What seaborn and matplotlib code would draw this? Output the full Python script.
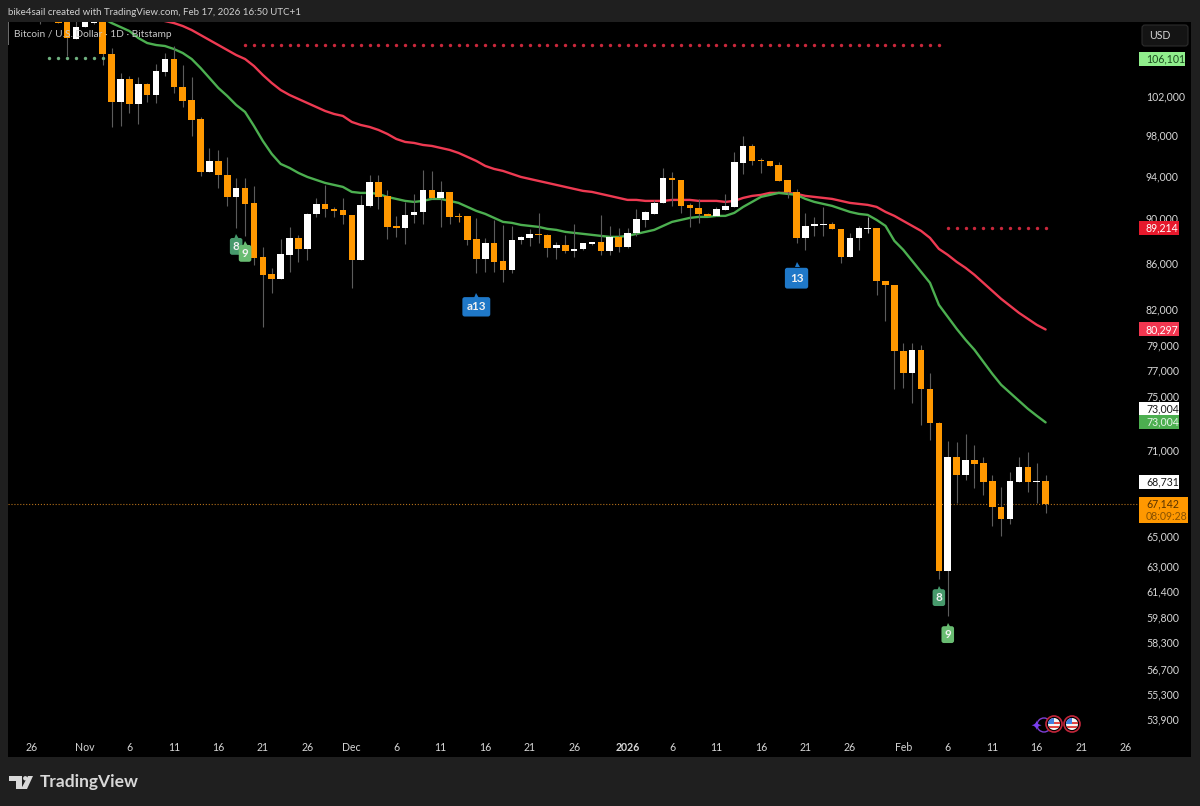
import numpy as np
import matplotlib
matplotlib.use("Agg")
import matplotlib.pyplot as plt
from matplotlib.patches import Rectangle, Circle, Wedge, Polygon, FancyBboxPatch
from matplotlib.ticker import NullLocator
import seaborn as sns

# daily candles, first one is day 1 (day 0 = Oct 26)
opens = [111200, 111500, 110100, 111500, 108131, 109469, 109917, 110500, 106484, 101377,
         103793, 101170, 103264, 102107, 104540, 105940, 102947, 101584, 99628, 94365,
         95435, 94077, 91981, 92833, 91418, 86500, 85008, 84573, 86678, 88199,
         87211, 90394, 91324, 90857, 90764, 90301, 86234, 91137, 93404, 92076,
         89290, 89107, 90301, 90579, 92642, 91887, 92453, 90209, 90209, 88109,
         86323, 87749, 86146, 85356, 88018, 88199, 88562, 88471, 87300, 87570,
         87032, 87211, 87659, 87839, 87032, 88290, 87390, 88652, 89839, 90394,
         91418, 93788, 93595, 91231, 90951, 90394, 90209, 90764, 91044, 95240,
         96912, 95532, 95435, 95046, 93595, 92453, 88199, 89290, 89382, 89473,
         89016, 86500, 88199, 89016, 89107, 84400, 84056, 78563, 76814, 78643,
         75565, 72980, 62718, 70483, 69196, 70266, 70051, 68772, 66966, 66148,
         68702, 69765, 68702, 68731]
highs = [112000, 112500, 110800, 112000, 110500, 111000, 111000, 111000, 107140, 104433,
         104112, 104006, 103370, 105399, 106592, 107360, 105291, 104006, 99800, 96714,
         96515, 95827, 93788, 93788, 93023, 87390, 85532, 88109, 89198, 88471,
         90486, 91887, 93118, 91044, 91887, 90301, 92170, 94077, 94077, 92642,
         90209, 91511, 92264, 94558, 94461, 93499, 92453, 90486, 90209, 90024,
         88199, 89839, 89382, 89290, 88380, 89016, 90486, 88562, 87839, 88471,
         89473, 87749, 87839, 90301, 89290, 89107, 89107, 90857, 90700, 91698,
         94752, 94365, 93595, 91418, 91792, 90486, 91044, 92264, 96318, 97910,
         97110, 95729, 95435, 95337, 93595, 92737, 90486, 90116, 91044, 89656,
         89016, 88652, 89290, 90116, 89107, 84400, 84056, 79209, 79209, 79047,
         76814, 73055, 71647, 71574, 72163, 71354, 70483, 69196, 68351, 69408,
         70483, 70844, 70051, 69196]
lows = [109805, 110300, 109917, 106266, 108131, 109469, 109800, 105291, 98816, 98917,
        100243, 99120, 101377, 101274, 104112, 102316, 100860, 97910, 93980, 94365,
        92833, 91137, 89107, 88380, 85795, 80518, 83370, 84573, 85182, 86058,
        86234, 90116, 90116, 90116, 89473, 83797, 86234, 91044, 90857, 88109,
        88290, 87659, 89565, 89473, 91887, 89198, 89473, 89656, 87570, 85095,
        85182, 85182, 84314, 85095, 87659, 87480, 87749, 86500, 86323, 86855,
        86500, 87121, 87570, 86678, 86678, 86944, 87300, 88380, 89198, 90394,
        91418, 91137, 90486, 89198, 89565, 90209, 90209, 90764, 91044, 94172,
        95046, 94268, 94949, 93499, 91887, 87749, 87121, 88380, 88380, 89016,
        85970, 86500, 87121, 88652, 83200, 81013, 75565, 75642, 74490, 72831,
        71720, 62206, 59895, 67241, 68842, 68281, 67793, 65676, 65006, 65810,
        68702, 68002, 67241, 66556]
closes = [110900, 111000, 109917, 108200, 109469, 110500, 110500, 106484, 101377, 103793,
          101170, 103264, 102107, 104646, 105940, 102947, 101481, 99525, 94365, 95435,
          94077, 91981, 92833, 91324, 86411, 84921, 84573, 86766, 88199, 87211,
          90394, 91324, 90857, 90672, 90301, 86234, 91231, 93404, 91981, 89198,
          89107, 90301, 90579, 92642, 91887, 92453, 90116, 90116, 88018, 86323,
          87749, 86058, 85356, 88018, 88290, 88562, 88471, 87300, 87570, 87032,
          87211, 87749, 87839, 87032, 88290, 87390, 88652, 89931, 90579, 91418,
          93788, 93595, 91137, 90951, 90394, 90209, 90857, 91137, 95337, 96912,
          95435, 95435, 94949, 93499, 92453, 88199, 89290, 89473, 89473, 89016,
          86500, 88199, 89107, 89107, 84400, 84056, 78563, 76814, 78643, 75565,
          72980, 62718, 70483, 69196, 70266, 69979, 68702, 66966, 66148, 68772,
          69765, 68702, 68731, 67142]

# moving averages, both end on the last candle
green_ma = [110482, 109917, 109469, 109020, 108242, 107690, 107470, 107360, 107030, 106592,
            105940, 104969, 103900, 102841, 102000, 101067, 100345, 98917, 97409, 96122,
            95142, 94753, 94269, 93884, 93595, 93309, 93118, 92928, 92453, 92359,
            92359, 92264, 91981, 91792, 91605, 91511, 91605, 91792, 91792, 91605,
            91418, 91044, 90672, 90394, 90024, 89656, 89565, 89382, 89290, 89198,
            89016, 88924, 88743, 88652, 88562, 88471, 88380, 88290, 88290, 88380,
            88562, 88743, 88924, 89290, 89656, 89839, 90024, 90116, 90116, 90209,
            90209, 90486, 91044, 91511, 91981, 92170, 92359, 92264, 92170, 91792,
            91511, 91324, 91137, 90857, 90579, 90394, 90301, 89839, 89290, 87929,
            87121, 86146, 85182, 84228, 82352, 81346, 80352, 79452, 78643, 77683,
            76735, 75875, 75256, 74642, 74033, 73505, 73004]
red_ma = [110368, 110142, 109917, 109581, 109132, 108576, 108020, 107470, 106920, 106375,
          105940, 105184, 104220, 103370, 102630, 102107, 101688, 101274, 100860, 100447,
          100140, 99935, 99322, 99018, 98816, 98512, 98110, 97607, 97310, 97210,
          97011, 96912, 96714, 96515, 96220, 95827, 95435, 94948, 94655, 94461,
          94172, 93884, 93691, 93499, 93309, 93118, 92928, 92737, 92548, 92453,
          92264, 92076, 91887, 91698, 91698, 91605, 91605, 91605, 91698, 91698,
          91698, 91605, 91605, 91605, 91511, 91605, 91887, 92076, 92170, 92359,
          92359, 92359, 92264, 92076, 91981, 91887, 91792, 91605, 91418, 91324,
          91231, 91044, 90579, 90209, 89747, 89290, 88833, 88199, 87211, 86678,
          86058, 85532, 84921, 84228, 83540, 82859, 82268, 81680, 81180, 80683,
          80297]

# dotted levels: (first day, last day, price)
red_level_top = (24, 102, 107420)
red_level_low = (103, 114, 89107)
green_level = (2, 8, 106020)
last_price = 67142

y_ticks = [102000, 98000, 94000, 90000, 86000, 82000, 79000, 77000, 75000, 71000, 69000,
           65000, 63000, 61400, 59800, 58300, 56700, 55300, 53900]
x_ticks = [0, 6, 11, 16, 21, 26, 31, 36, 41, 46, 51, 56, 61, 67, 72, 77, 82, 87, 92, 98, 103, 108, 113, 118, 123]
x_labels = ["26", "Nov", "6", "11", "16", "21", "26", "Dec", "6", "11", "16", "21", "26", "2026",
            "6", "11", "16", "21", "26", "Feb", "6", "11", "16", "21", "26"]

sns.set_theme(style="dark")
plt.rcParams['font.family'] = ['Lato', 'DejaVu Sans']

W, H = 1200, 806
bg = "#1f1f1f"
tick_col = "#d6d6d6"
fig = plt.figure(figsize=(W / 100, H / 100), dpi=100, facecolor=bg)


def fx(px):
    return px / W


def fy(px):
    return 1 - px / H


# black panel behind the chart and the price axis
fig.add_artist(Rectangle((fx(8), fy(757)), fx(1183), 735 / H, transform=fig.transFigure,
                         facecolor="black", edgecolor="none", zorder=-1))
ax = fig.add_axes([fx(8), fy(735), fx(1131), 713 / H], facecolor="black")
ax.set_yscale("log")

days = np.arange(1, len(opens) + 1)
green_days = np.arange(115 - len(green_ma), 115)
red_days = np.arange(115 - len(red_ma), 115)

sns.lineplot(x=red_days, y=red_ma, color="#ee3a52", linewidth=1.7, ax=ax, legend=False, zorder=2)
sns.lineplot(x=green_days, y=green_ma, color="#4caf50", linewidth=1.7, ax=ax, legend=False, zorder=2)

# candles
o = np.array(opens)
c = np.array(closes)
ups = c >= o
wick_cols = ["#5c5c5c"] * len(days)
wick_cols[47] = "#b87a2a"  # the two crosses keep a coloured wick
wick_cols[93] = "#a8a8a8"
ax.vlines(days, lows, highs, colors=wick_cols, linewidth=0.8, zorder=3)
body_bottom = np.minimum(o, c)
body_height = np.maximum(np.abs(c - o), 50)
ax.bar(days[ups], body_height[ups], bottom=body_bottom[ups], width=0.74, color="#ffffff", linewidth=0, zorder=4)
ax.bar(days[~ups], body_height[~ups], bottom=body_bottom[~ups], width=0.74, color="#ff9800", linewidth=0, zorder=4)

# dotted levels
for (d0, d1, price), col in [(red_level_top, "#c9283c"), (red_level_low, "#c9283c"), (green_level, "#6fb07f")]:
    level_days = np.arange(d0, d1 + 1)
    sns.scatterplot(x=level_days, y=[price] * len(level_days), color=col, s=6, linewidth=0, ax=ax,
                    legend=False, zorder=5)
ax.axhline(last_price, color="#b5701a", linestyle=":", linewidth=0.8, zorder=1)


# little TD count flags
def flag(day, price, text, col, size, pad, tip):
    ax.text(day, price, text, color="#f2f2f2", fontsize=size, fontweight="bold", ha="center", va="center",
            zorder=7, bbox=dict(boxstyle="round,pad=" + str(pad) + ",rounding_size=0.2", facecolor=col, edgecolor="none"))
    ax.plot([day], [tip], marker="^", markersize=3.6, color=col, markeredgewidth=0, zorder=6)


flag(23, 87433, "8", "#479a6c", 8.4, 0.25, 88380)
flag(24, 86810, "9", "#69bc72", 8.4, 0.25, 87750)
flag(102, 61007, "8", "#479a6c", 8.4, 0.25, 61630)
flag(103, 58737, "9", "#69bc72", 8.4, 0.25, 59340)
flag(50, 82184, "a13", "#1f78c8", 8.4, 0.36, 83200)
flag(86, 84630, "13", "#1f78c8", 8.4, 0.42, 85880)

ax.set_xlim(-2.65, 124.5)
ax.set_ylim(52996, 110035)
ax.yaxis.tick_right()
ax.set_yticks(y_ticks)
ax.set_yticklabels([f"{v:,}" for v in y_ticks])
ax.yaxis.set_minor_locator(NullLocator())
ax.set_xticks(x_ticks)
ax.set_xticklabels(x_labels)
ax.tick_params(axis="y", length=0, pad=5, labelsize=7.6, labelcolor=tick_col)
ax.tick_params(axis="x", length=0, pad=5, labelsize=7.6, labelcolor=tick_col)
ax.get_xticklabels()[13].set_fontweight("bold")
ax.grid(False)
for side in ax.spines.values():
    side.set_visible(False)


def tag(price, text, col, txt_col, right, dy=0, h=14, sub=None):
    # price label on the axis, centred on its price plus dy pixels
    ypx = H - ax.transData.transform((0, price))[1] + dy
    fig.add_artist(Rectangle((fx(1139), fy(ypx + h / 2)), fx(right - 1139), h / H, transform=fig.transFigure,
                             facecolor=col, edgecolor="none", zorder=4))
    if sub is None:
        fig.text(fx(1146), fy(ypx), text, color=txt_col, fontsize=7.6, ha="left", va="center", zorder=5)
    else:
        fig.text(fx(1146), fy(ypx - 6.5), text, color=txt_col, fontsize=7.6, ha="left", va="center", zorder=5)
        fig.text(fx(1146), fy(ypx + 6.5), sub, color="#8a5200", fontsize=7.6, ha="left", va="center", zorder=5)


tag(106101, "106,101", "#90ee8c", "#1c4a20", 1185, dy=1)
tag(89214, "89,214", "#e6192c", "#ffffff", 1179, dy=1)
tag(80297, "80,297", "#f23650", "#ffffff", 1179)
tag(73004, "73,004", "#ffffff", "#1a1a1a", 1179, dy=-13)
tag(73004, "73,004", "#4caf50", "#e8f5e9", 1179)
tag(68731, "68,731", "#ffffff", "#1a1a1a", 1179, dy=1)
tag(last_price, "67,142", "#ff9800", "#5a3300", 1188, dy=6, h=26, sub="08:09:28")

# USD button
fig.add_artist(FancyBboxPatch((1143, H - 45), 44, 19, boxstyle="round,pad=1,rounding_size=3",
                              transform=None, facecolor="#141414", edgecolor="#2c2c2c", linewidth=0.8, zorder=4))
fig.text(fx(1149), fy(35.5), "USD", color=tick_col, fontsize=7.6, va="center", ha="left", zorder=5)

# header, series title and footer
fig.text(fx(8), fy(12.5), "bike4sail created with TradingView.com, Feb 17, 2026 16:50 UTC+1", color="#d0d0d0",
         fontsize=7.0, va="center", ha="left")
fig.text(fx(14), fy(34.5), "Bitcoin / U.S. Dollar · 1D · Bitstamp", color="#c8c8c8", fontsize=7.3,
         va="center", ha="left", zorder=6)
fig.add_artist(Rectangle((fx(8), fy(45)), 1 / W, 23 / H, transform=fig.transFigure, facecolor="#6a6a6a",
                         edgecolor="none", zorder=6))
fig.text(fx(39.5), fy(782), "TradingView", color="#d8d8d8", fontsize=12.5, fontweight="bold", va="center", ha="left")

# TradingView logo
logo_col = "#d8d8d8"
for pts in [[(9, 776), (22, 776), (22, 789), (16, 789), (16, 781), (9, 781)],
            [(27, 789), (33, 776), (28, 776), (21, 789)]]:
    fig.add_artist(Polygon([(fx(a), fy(b)) for a, b in pts], closed=True, transform=fig.transFigure,
                           facecolor=logo_col, edgecolor="none"))
fig.add_artist(Circle((25.3, H - 778.3), 2.2, transform=None, facecolor=logo_col, edgecolor="none"))

# event icons at the bottom
fig.add_artist(Circle((1044, H - 725), 7, transform=None, facecolor="none", edgecolor="#7e3fd6", linewidth=1, zorder=4))
fig.text(fx(1036.5), fy(727), "✦", color="#7b3ff2", fontsize=9.5, ha="center", va="center", family="DejaVu Sans", zorder=4)
for cx in [1054, 1072]:
    cy = H - 724
    fig.add_artist(Circle((cx, cy), 8, transform=None, facecolor="black", edgecolor="#c2263a", linewidth=1.2, zorder=5))
    fig.add_artist(Circle((cx, cy), 6, transform=None, facecolor="#f4f4f4", edgecolor="none", zorder=5))
    fig.add_artist(Wedge((cx, cy), 6, 90, 180, transform=None, facecolor="#3f7fe0", edgecolor="none", zorder=6))
    fig.add_artist(Rectangle((cx - 5, cy - 3.5), 10, 1.3, transform=None, facecolor="#e04545", edgecolor="none", zorder=6))
    fig.add_artist(Rectangle((cx, cy + 0.3), 5.5, 1.3, transform=None, facecolor="#e04545", edgecolor="none", zorder=6))

fig.savefig("out.png", dpi=100, facecolor=bg)
